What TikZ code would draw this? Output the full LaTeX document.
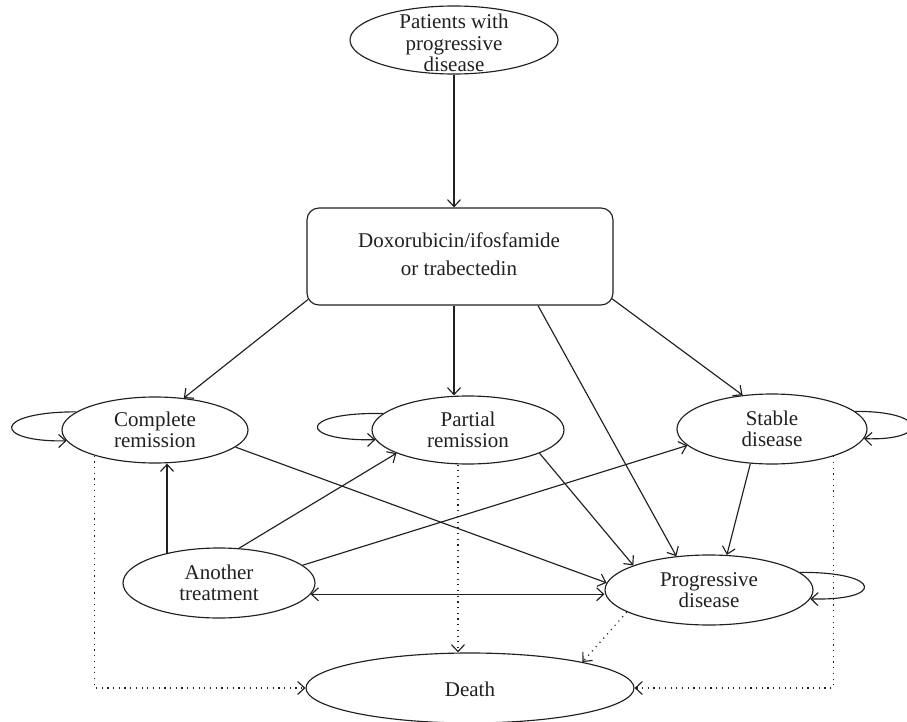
\documentclass[tikz,border=0pt]{standalone}
\usepackage{fontspec}
\setmainfont{Liberation Serif}
\usetikzlibrary{arrows.meta,shapes.geometric,calc}
\definecolor{ink}{HTML}{231F20}
\begin{document}
\begin{tikzpicture}[x=1pt,y=-1pt,
  txt/.style={text=ink, font=\fontsize{21}{21.5}\selectfont, align=center, inner sep=0pt},
  ell/.style={draw=ink, line width=1.15pt, ellipse, inner sep=0pt},
  rbox/.style={draw=ink, line width=1.15pt, rounded corners=12pt, inner sep=0pt},
  arr/.style={draw=ink, line width=1.15pt, -{Straight Barb[length=7pt,width=13pt]}},
  barr/.style={draw=ink, line width=1.15pt, {Straight Barb[length=7pt,width=13pt]}-{Straight Barb[length=7pt,width=13pt]}},
  darr/.style={arr, dash pattern=on 1.2pt off 4.5pt},
]
\useasboundingbox (0,0) rectangle (907,722);

% nodes
\node[ell, minimum width=208pt, minimum height=68pt] (pat) at (454,40) {};
\node[txt] (patT) at (454,43) {Patients with\\progressive\\disease};

\node[rbox, minimum width=306pt, minimum height=97pt] (box) at (460,256.5) {};
\node[txt, font=\fontsize{21}{28.5}\selectfont] (boxT) at (459,254) {Doxorubicin/ifosfamide\\or trabectedin};

\node[ell, minimum width=186pt, minimum height=66pt] (cr) at (155,430) {};
\node[txt] (crT) at (155,430) {Complete\\remission};

\node[ell, minimum width=192pt, minimum height=68pt] (pr) at (468,430) {};
\node[txt] (prT) at (468,430) {Partial\\remission};

\node[ell, minimum width=190pt, minimum height=70pt] (sd) at (772,429) {};
\node[txt] (sdT) at (772,429) {Stable\\disease};

\node[ell, minimum width=192pt, minimum height=70pt] (at) at (219,583) {};
\node[txt] (atT) at (219,583) {Another\\treatment};

\node[ell, minimum width=208pt, minimum height=70pt] (pd) at (709,590) {};
\node[txt] (pdT) at (709,590) {Progressive\\disease};

\node[ell, minimum width=328pt, minimum height=70pt] (death) at (470,688) {};
\node[txt] (deathT) at (470,689) {Death};

% solid connectors
\draw[arr] (pat.south) -- (box.north -| pat.south);
\draw[arr] ($(box.south west)+(1.5,-6)$) -- (cr.48);
\draw[arr] (box.south -| pat.south) -- (pr.north -| pat.south);
\draw[arr] ($(box.south)+(78,0)$) -- (pd.134);
\draw[arr] ($(box.south east)+(-1.4,-6.7)$) -- (sd.131);
\draw[arr] (cr.-12) -- (pd.176);
\draw[arr] (pr.-18) -- (pd.162);
\draw[arr] (sd.238) -- (pd.63);
\draw[arr] (at.150) -- (at.150 |- cr.south);
\draw[arr] (at.60) -- (pr.198);
\draw[arr] (at.12) -- (sd.191);
\draw[barr] (at.-7) -- (pd.west |- at.-7);

% self loops
\draw[arr] (cr.167) .. controls (-8,412) and (-8,442) .. (cr.187);
\draw[arr] (pr.169) .. controls (297,412) and (297,441) .. (pr.186);
\draw[arr] (sd.12) .. controls (929,411) and (929,441) .. (sd.-6);
\draw[arr] (pd.11) .. controls (884,572) and (884,601) .. (pd.-5);

% dotted connectors to death
\coordinate (px) at (458,0);
\draw[darr] (cr.203) |- (death.west);
\draw[darr] (pr.south -| px) -- (death.north -| px);
\draw[darr] (pd.195) -- (death.13);
\draw[darr] (sd.-24) |- (death.east);
\end{tikzpicture}
\end{document}
